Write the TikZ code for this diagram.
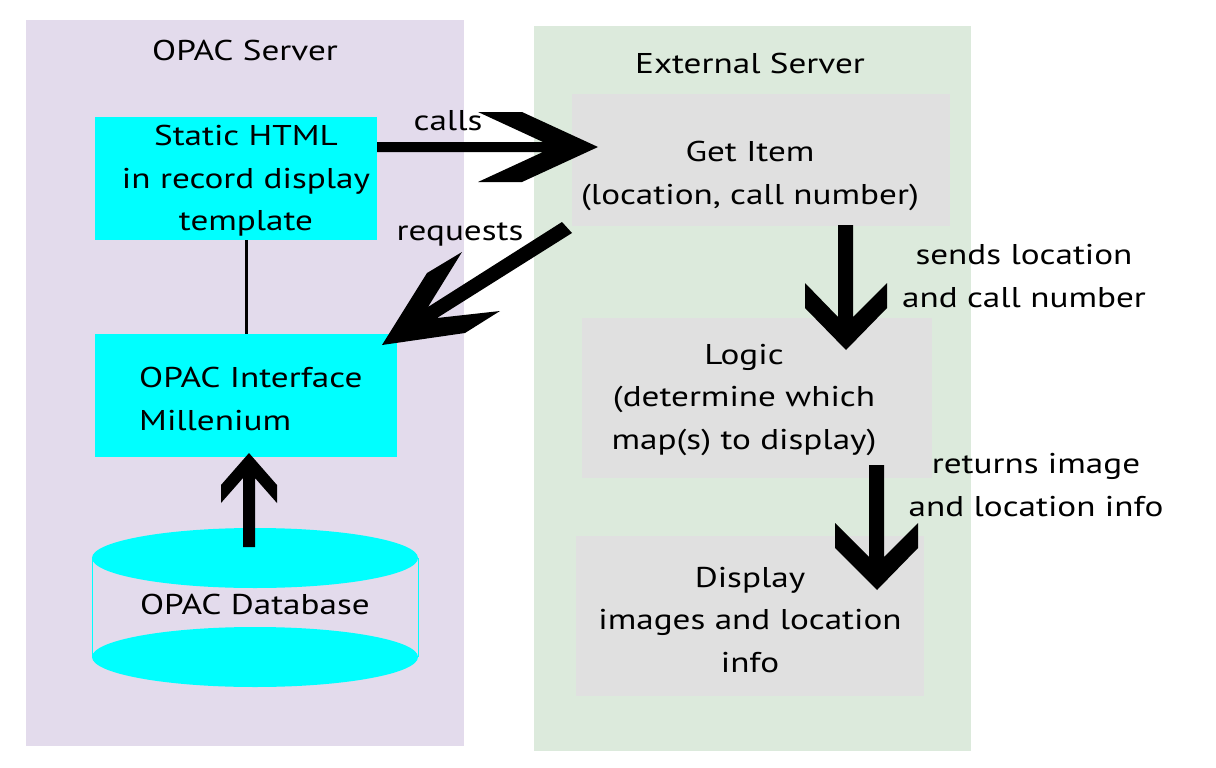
\documentclass[tikz,border=0pt]{standalone}
\usepackage{fontspec}
\setmainfont{PT Sans}[FakeStretch=1.23]
\begin{document}
\begin{tikzpicture}[x=1pt,y=-1pt,
  box/.style={rectangle,inner sep=0pt,outer sep=0pt,anchor=north west},
  bgA/.style={box,fill=lavbg},
  bgB/.style={box,fill=greenbg},
  cy/.style={box,fill=cyan},
  gr/.style={box,fill=greybox},
  txt/.style={inner sep=0pt,align=center,font=\fontsize{28.6}{42.5}\selectfont},
  arr/.style={fill=black,draw=none}]
\definecolor{lavbg}{HTML}{E3DBEC}
\definecolor{greenbg}{HTML}{DCEADC}
\definecolor{greybox}{HTML}{E0E0E0}
\definecolor{cyan}{HTML}{00FFFF}
\useasboundingbox (0,0) rectangle (1216,768);
\fill[white] (0,0) rectangle (1216,768);
% backgrounds
\node[bgA,minimum width=438pt,minimum height=726pt] (opacbg) at (26,20) {};
\node[bgB,minimum width=437pt,minimum height=725pt] (extbg) at (534,26) {};
% cyan boxes
\node[cy,minimum width=282pt,minimum height=123pt] (static) at (95,117) {};
\node[cy,minimum width=302pt,minimum height=123pt] (iface) at (95,334) {};
% grey boxes
\node[gr,minimum width=378pt,minimum height=132pt] (getitem) at (572,94) {};
\node[gr,minimum width=350pt,minimum height=160pt] (logic) at (582,318) {};
\node[gr,minimum width=348pt,minimum height=160pt] (display) at (576,536) {};
% cylinder
\coordinate (dbtop) at (255,558);
\coordinate (dbbot) at (255,657);
\draw[cyan,line width=0.6pt] (92,558) -- (92,657) (418,558) -- (418,657);
\fill[cyan] (dbbot) ellipse [x radius=163, y radius=30];
\fill[cyan] (dbtop) ellipse [x radius=163, y radius=30];
% connector line
\draw[line width=3pt] (static.south -| iface.north) -- (iface.north);
% texts
\node[txt] (t1) at (245,50) {OPAC Server};
\node[txt] (t2) at (750,63) {External Server};
\node[txt] (t3) at (246,181) {Static HTML\\in record display\\template};
\node[txt,align=left,anchor=west] (t4) at (139,399) {OPAC Interface\\Millenium};
\node[txt] (t5) at (255,604) {OPAC Database};
\node[txt] (t6) at (448,121) {calls};
\node[txt] (t7) at (460,234) {requests};
\node[txt] (t8) at (750,176) {Get Item\\(location, call number)};
\node[txt] (t9) at (1024,276) {sends location\\and call number};
\node[txt] (t10) at (744,400) {Logic\\(determine which\\map(s) to display)};
\node[txt] (t11) at (1036,485) {returns image\\and location info};
\node[txt] (t12) at (750,620) {Display\\images and location\\info};
% arrows
\fill[arr] (377,142) -- (543,142) -- (478,112) -- (522,112) -- (598,147) -- (522,182) -- (478,182) -- (543,152) -- (377,152) -- cycle;
\fill[arr] (562,222) -- (428,307) -- (462,252) -- (427,273) -- (382,345) -- (465,333) -- (500,311) -- (437,318) -- (572,233) -- cycle;
\fill[arr] (243,547) -- (243,478) -- (221,503) -- (221,485) -- (249,453) -- (277,485) -- (277,503) -- (255,478) -- (255,547) -- cycle;
\fill[arr] (838,225) -- (853,225) -- (853,317) -- (887,283) -- (887,308) -- (846,350) -- (805,308) -- (805,283) -- (838,317) -- cycle;
\fill[arr] (869,465) -- (884,465) -- (884,557) -- (918,523) -- (918,548) -- (877,590) -- (835,548) -- (835,523) -- (869,557) -- cycle;
\end{tikzpicture}
\end{document}
